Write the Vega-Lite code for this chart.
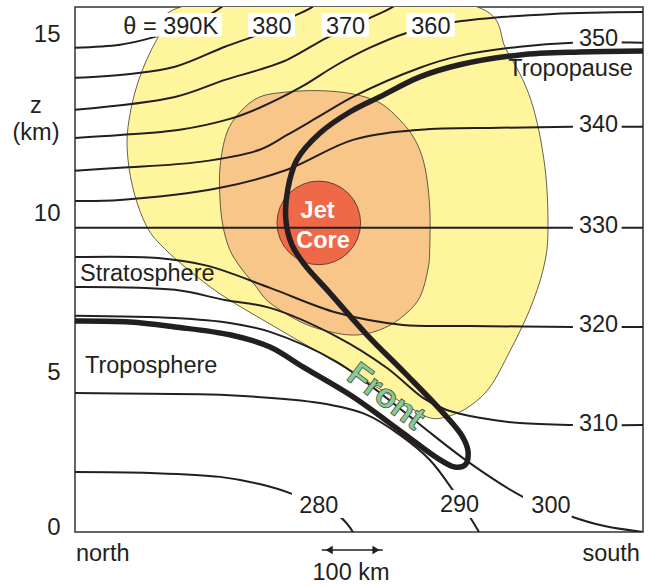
{
  "$schema": "https://vega.github.io/schema/vega-lite/v6.json",
  "width": 568,
  "height": 525,
  "autosize": "none",
  "padding": {"left": 75, "top": 7, "right": 13, "bottom": 54},
  "background": "white",
  "config": {"view": {"stroke": "#333333", "strokeWidth": 1.5}, "font": "Liberation Sans"},
  "datasets": {
    "yellow": [
      {"x": 175, "y": 16.01}, {"x": 134, "y": 15.0}, {"x": 103, "y": 13.69}, {"x": 87, "y": 12.35},
      {"x": 87, "y": 11.34}, {"x": 98, "y": 10.27}, {"x": 118, "y": 9.3}, {"x": 144, "y": 8.69},
      {"x": 192, "y": 7.9}, {"x": 246, "y": 7.16}, {"x": 328, "y": 6.25}, {"x": 430, "y": 5.15},
      {"x": 538, "y": 3.93}, {"x": 582, "y": 3.48}, {"x": 615, "y": 3.54}, {"x": 648, "y": 3.84},
      {"x": 681, "y": 4.42}, {"x": 713, "y": 5.49}, {"x": 746, "y": 6.77}, {"x": 768, "y": 7.99},
      {"x": 776, "y": 9.12}, {"x": 771, "y": 11.13}, {"x": 748, "y": 13.17}, {"x": 708, "y": 14.69},
      {"x": 659, "y": 16.01}, {"x": 417, "y": 16.6}
    ],
    "orange": [
      {"x": 348, "y": 13.41}, {"x": 303, "y": 13.26}, {"x": 271, "y": 12.8}, {"x": 249, "y": 12.16},
      {"x": 238, "y": 11.13}, {"x": 238, "y": 10.12}, {"x": 243, "y": 9.3}, {"x": 254, "y": 8.6},
      {"x": 271, "y": 8.08}, {"x": 295, "y": 7.53}, {"x": 320, "y": 6.98}, {"x": 374, "y": 6.37},
      {"x": 426, "y": 6.07}, {"x": 467, "y": 6.01}, {"x": 508, "y": 6.22}, {"x": 541, "y": 6.62},
      {"x": 566, "y": 7.16}, {"x": 579, "y": 7.99}, {"x": 582, "y": 8.6}, {"x": 582, "y": 9.91},
      {"x": 574, "y": 11.13}, {"x": 558, "y": 11.95}, {"x": 533, "y": 12.56}, {"x": 500, "y": 13.08},
      {"x": 456, "y": 13.35}, {"x": 402, "y": 13.45}
    ],
    "core": [{"x": 400, "y": 9.42}],
    "iso": [
      {"id": "390", "x": 0, "y": 14.76}, {"id": "390", "x": 74, "y": 14.85}, {"id": "390", "x": 131, "y": 15.09}, {"id": "390", "x": 189, "y": 15.46}, {"id": "390", "x": 241, "y": 16.01}, {"id": "390", "x": 262, "y": 16.4},
      {"id": "380", "x": 0, "y": 13.84}, {"id": "380", "x": 90, "y": 13.96}, {"id": "380", "x": 164, "y": 14.18}, {"id": "380", "x": 246, "y": 14.79}, {"id": "380", "x": 307, "y": 15.21}, {"id": "380", "x": 353, "y": 15.67}, {"id": "380", "x": 390, "y": 16.01}, {"id": "380", "x": 405, "y": 16.3},
      {"id": "370", "x": 0, "y": 12.87}, {"id": "370", "x": 164, "y": 13.26}, {"id": "370", "x": 246, "y": 13.78}, {"id": "370", "x": 303, "y": 14.09}, {"id": "370", "x": 348, "y": 14.39}, {"id": "370", "x": 413, "y": 15.06}, {"id": "370", "x": 484, "y": 15.67}, {"id": "370", "x": 522, "y": 16.01}, {"id": "370", "x": 540, "y": 16.3},
      {"id": "360", "x": 0, "y": 12.01}, {"id": "360", "x": 74, "y": 12.1}, {"id": "360", "x": 172, "y": 12.26}, {"id": "360", "x": 254, "y": 12.59}, {"id": "360", "x": 303, "y": 12.93}, {"id": "360", "x": 369, "y": 13.54}, {"id": "360", "x": 430, "y": 14.24}, {"id": "360", "x": 484, "y": 14.76}, {"id": "360", "x": 544, "y": 15.21}, {"id": "360", "x": 626, "y": 15.55}, {"id": "360", "x": 784, "y": 15.79}, {"id": "360", "x": 932, "y": 15.85},
      {"id": "350", "x": 0, "y": 11.01}, {"id": "350", "x": 74, "y": 11.1}, {"id": "350", "x": 205, "y": 11.28}, {"id": "350", "x": 303, "y": 11.65}, {"id": "350", "x": 348, "y": 12.1}, {"id": "350", "x": 402, "y": 12.68}, {"id": "350", "x": 459, "y": 13.29}, {"id": "350", "x": 566, "y": 14.15}, {"id": "350", "x": 631, "y": 14.51}, {"id": "350", "x": 730, "y": 14.79}, {"id": "350", "x": 817, "y": 14.91}, {"id": "350", "x": 932, "y": 14.91},
      {"id": "340", "x": 0, "y": 10.09}, {"id": "340", "x": 74, "y": 10.12}, {"id": "340", "x": 238, "y": 10.49}, {"id": "340", "x": 348, "y": 11.04}, {"id": "340", "x": 456, "y": 11.95}, {"id": "340", "x": 566, "y": 12.26}, {"id": "340", "x": 697, "y": 12.32}, {"id": "340", "x": 817, "y": 12.35}, {"id": "340", "x": 932, "y": 12.35},
      {"id": "330", "x": 0, "y": 9.27}, {"id": "330", "x": 932, "y": 9.27},
      {"id": "320", "x": 0, "y": 8.38}, {"id": "320", "x": 136, "y": 8.35}, {"id": "320", "x": 218, "y": 8.11}, {"id": "320", "x": 320, "y": 7.44}, {"id": "320", "x": 430, "y": 6.68}, {"id": "320", "x": 538, "y": 6.31}, {"id": "320", "x": 648, "y": 6.28}, {"id": "320", "x": 817, "y": 6.25}, {"id": "320", "x": 932, "y": 6.25},
      {"id": "310", "x": 0, "y": 7.47}, {"id": "310", "x": 164, "y": 7.38}, {"id": "310", "x": 246, "y": 7.07}, {"id": "310", "x": 320, "y": 6.83}, {"id": "310", "x": 430, "y": 5.95}, {"id": "310", "x": 512, "y": 5.0}, {"id": "310", "x": 571, "y": 4.09}, {"id": "310", "x": 610, "y": 3.72}, {"id": "310", "x": 664, "y": 3.48}, {"id": "310", "x": 730, "y": 3.32}, {"id": "310", "x": 817, "y": 3.26}, {"id": "310", "x": 932, "y": 3.26},
      {"id": "300", "x": 0, "y": 6.59}, {"id": "300", "x": 164, "y": 6.52}, {"id": "300", "x": 254, "y": 6.37}, {"id": "300", "x": 320, "y": 6.1}, {"id": "300", "x": 430, "y": 5.18}, {"id": "300", "x": 538, "y": 3.69}, {"id": "300", "x": 571, "y": 3.2}, {"id": "300", "x": 648, "y": 2.1}, {"id": "300", "x": 735, "y": 1.07}, {"id": "300", "x": 807, "y": 0.52}, {"id": "300", "x": 869, "y": 0.18}, {"id": "300", "x": 932, "y": 0},
      {"id": "290", "x": 0, "y": 4.24}, {"id": "290", "x": 123, "y": 4.21}, {"id": "290", "x": 238, "y": 4.18}, {"id": "290", "x": 402, "y": 3.93}, {"id": "290", "x": 479, "y": 3.57}, {"id": "290", "x": 533, "y": 2.96}, {"id": "290", "x": 582, "y": 2.2}, {"id": "290", "x": 623, "y": 1.19}, {"id": "290", "x": 648, "y": 0.46}, {"id": "290", "x": 663, "y": 0},
      {"id": "280", "x": 0, "y": 1.83}, {"id": "280", "x": 123, "y": 1.8}, {"id": "280", "x": 238, "y": 1.68}, {"id": "280", "x": 303, "y": 1.46}, {"id": "280", "x": 356, "y": 1.16}, {"id": "280", "x": 435, "y": 0.46}, {"id": "280", "x": 456, "y": 0}
    ],
    "trop": [
      {"x": 0, "y": 6.43}, {"x": 90, "y": 6.4}, {"x": 164, "y": 6.25}, {"x": 254, "y": 6.01}, {"x": 320, "y": 5.64},
      {"x": 374, "y": 5.03}, {"x": 456, "y": 4.12}, {"x": 538, "y": 3.02}, {"x": 594, "y": 2.26}, {"x": 623, "y": 1.98},
      {"x": 640, "y": 2.04}, {"x": 645, "y": 2.44}, {"x": 636, "y": 2.9}, {"x": 604, "y": 3.63}, {"x": 541, "y": 4.85},
      {"x": 479, "y": 6.01}, {"x": 418, "y": 7.29}, {"x": 377, "y": 8.14}, {"x": 356, "y": 8.75}, {"x": 346, "y": 9.51},
      {"x": 349, "y": 10.43}, {"x": 364, "y": 11.34}, {"x": 402, "y": 12.16}, {"x": 451, "y": 12.8}, {"x": 500, "y": 13.26},
      {"x": 566, "y": 13.87}, {"x": 631, "y": 14.24}, {"x": 730, "y": 14.54}, {"x": 828, "y": 14.63}, {"x": 932, "y": 14.66}
    ],
    "boxes": [
      {"x": 74, "x2": 241, "y": 15.82, "y2": 15.09},
      {"x": 284, "x2": 361, "y": 15.82, "y2": 15.09},
      {"x": 405, "x2": 482, "y": 15.82, "y2": 15.09},
      {"x": 544, "x2": 623, "y": 15.82, "y2": 15.09},
      {"x": 817, "x2": 897, "y": 15.37, "y2": 14.79},
      {"x": 817, "x2": 897, "y": 12.74, "y2": 12.13},
      {"x": 817, "x2": 897, "y": 9.7, "y2": 9.09},
      {"x": 817, "x2": 897, "y": 6.65, "y2": 6.04},
      {"x": 817, "x2": 897, "y": 3.66, "y2": 3.05},
      {"x": 356, "x2": 443, "y": 1.28, "y2": 0.43},
      {"x": 599, "x2": 672, "y": 1.28, "y2": 0.43},
      {"x": 735, "x2": 815, "y": 1.28, "y2": 0.43}
    ],
    "labelsCenter": [
      {"t": "θ = 390K", "x": 157, "y": 15.18},
      {"t": "380", "x": 323, "y": 15.18},
      {"t": "370", "x": 444, "y": 15.18},
      {"t": "360", "x": 584, "y": 15.18},
      {"t": "350", "x": 859, "y": 14.82},
      {"t": "340", "x": 859, "y": 12.2},
      {"t": "330", "x": 859, "y": 9.12},
      {"t": "320", "x": 859, "y": 6.1},
      {"t": "310", "x": 859, "y": 3.08},
      {"t": "280", "x": 400, "y": 0.58},
      {"t": "290", "x": 631, "y": 0.6},
      {"t": "300", "x": 781, "y": 0.58},
      {"t": "Tropopause", "x": 813, "y": 13.9},
      {"t": "100 km", "x": 453, "y": -1.46},
      {"t": "z", "x": -64, "y": 12.77},
      {"t": "(km)", "x": -64, "y": 11.95}
    ],
    "labelsLeft": [
      {"t": "Stratosphere", "x": 8.2, "y": 7.65},
      {"t": "Troposphere", "x": 16.4, "y": 4.85},
      {"t": "north", "x": 1.6, "y": -0.88}
    ],
    "labelsRight": [
      {"t": "south", "x": 927, "y": -0.88}
    ],
    "jet": [
      {"t": "Jet", "x": 398, "y": 9.57},
      {"t": "Core", "x": 407, "y": 8.66}
    ],
    "front": [{"t": "Front", "x": 510, "y": 4.12}],
    "arrow": [{"x": 405, "x2": 505, "y": -0.55}],
    "heads": [{"x": 417, "y": -0.55, "dir": "left"}, {"x": 494, "y": -0.55, "dir": "right"}]
  },
  "encoding": {
    "x": {"field": "x", "type": "quantitative", "scale": {"domain": [0, 932], "nice": false, "zero": false}, "axis": null},
    "y": {
      "field": "y", "type": "quantitative",
      "scale": {"domain": [0, 16], "nice": false, "zero": false},
      "axis": {
        "orient": "left", "values": [0, 5, 10, 15], "ticks": false, "tickSize": 0, "domain": false, "grid": false,
        "title": null, "labelFontSize": 24, "labelFont": "Liberation Sans", "labelColor": "#231f20", "labelPadding": 15,
        "labelOffset": {"condition": [{"test": "datum.value === 15", "value": -5}, {"test": "datum.value === 10", "value": 10}, {"test": "datum.value === 5", "value": 5}], "value": -5}
      }
    }
  },
  "layer": [
    {
      "data": {"name": "yellow"},
      "mark": {"type": "line", "fill": "#FFF59D", "stroke": "#231f20", "strokeWidth": 0.7, "interpolate": "cardinal-closed", "clip": true},
      "encoding": {"order": {"value": null}}
    },
    {
      "data": {"name": "orange"},
      "mark": {"type": "line", "fill": "#F9C68A", "stroke": "#231f20", "strokeWidth": 0.7, "interpolate": "cardinal-closed", "clip": true},
      "encoding": {"order": {"value": null}}
    },
    {
      "data": {"name": "core"},
      "mark": {"type": "point", "shape": "circle", "filled": true, "fill": "#EF6948", "stroke": "#231f20", "strokeWidth": 0.7, "size": 7000, "opacity": 1}
    },
    {
      "data": {"name": "iso"},
      "mark": {"type": "line", "stroke": "#231f20", "strokeWidth": 2, "interpolate": "catmull-rom", "clip": true},
      "encoding": {"detail": {"field": "id"}, "order": {"value": null}}
    },
    {
      "data": {"name": "trop"},
      "mark": {"type": "line", "stroke": "#231f20", "strokeWidth": 5.5, "interpolate": "catmull-rom", "clip": true, "strokeCap": "butt"},
      "encoding": {"order": {"value": null}}
    },
    {
      "data": {"name": "boxes"},
      "mark": {"type": "rect", "fill": "white"},
      "encoding": {"x2": {"field": "x2"}, "y2": {"field": "y2"}}
    },
    {
      "data": {"name": "arrow"},
      "mark": {"type": "rule", "stroke": "#231f20", "strokeWidth": 1.5},
      "encoding": {"x2": {"field": "x2"}}
    },
    {
      "data": {"name": "heads"},
      "transform": [{"filter": "datum.dir === 'left'"}],
      "mark": {"type": "point", "shape": "triangle-left", "filled": true, "fill": "#231f20", "size": 70, "opacity": 1}
    },
    {
      "data": {"name": "heads"},
      "transform": [{"filter": "datum.dir === 'right'"}],
      "mark": {"type": "point", "shape": "triangle-right", "filled": true, "fill": "#231f20", "size": 70, "opacity": 1}
    },
    {
      "data": {"name": "labelsCenter"},
      "mark": {"type": "text", "align": "center", "baseline": "alphabetic", "fontSize": 23.5, "font": "Liberation Sans", "fill": "#231f20"},
      "encoding": {"text": {"field": "t"}}
    },
    {
      "data": {"name": "labelsLeft"},
      "mark": {"type": "text", "align": "left", "baseline": "alphabetic", "fontSize": 23.5, "font": "Liberation Sans", "fill": "#231f20"},
      "encoding": {"text": {"field": "t"}}
    },
    {
      "data": {"name": "labelsRight"},
      "mark": {"type": "text", "align": "right", "baseline": "alphabetic", "fontSize": 23.5, "font": "Liberation Sans", "fill": "#231f20"},
      "encoding": {"text": {"field": "t"}}
    },
    {
      "data": {"name": "jet"},
      "mark": {"type": "text", "align": "center", "baseline": "alphabetic", "fontSize": 23.5, "fontWeight": "bold", "font": "Liberation Sans", "fill": "white"},
      "encoding": {"text": {"field": "t"}}
    },
    {
      "data": {"name": "front"},
      "mark": {"type": "text", "align": "center", "baseline": "middle", "angle": 37, "fontSize": 34, "fontWeight": "bold", "font": "Liberation Sans", "fill": "#8DC897", "stroke": "#2E4A36", "strokeWidth": 0.7},
      "encoding": {"text": {"field": "t"}}
    }
  ]
}
